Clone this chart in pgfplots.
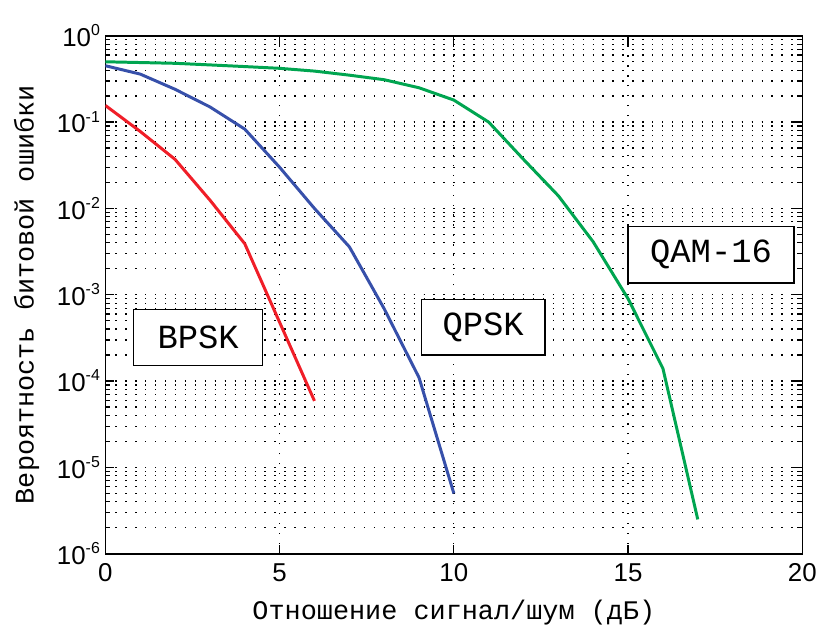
\documentclass[border=0pt]{standalone}
\usepackage{fontspec}
\setmainfont{Liberation Mono}
\newfontfamily\tickfont{Liberation Sans}
\usepackage{pgfplots}
\pgfplotsset{compat=1.18}
\definecolor{cred}{RGB}{240,30,40}
\definecolor{cblue}{RGB}{55,80,170}
\definecolor{cgreen}{RGB}{0,165,80}
\newcommand{\tp}[1]{10\raisebox{11pt}{\fontsize{16}{16}\selectfont #1}}
\begin{document}
\begin{tikzpicture}
\begin{axis}[
  scale only axis, width=701pt, height=521pt,
  xmin=0, xmax=20, ymin=1e-6, ymax=1,
  ymode=log,
  xtick={0,5,10,15,20},
  xticklabels={0,5,10,15,20},
  ytick={1e-6,1e-5,1e-4,1e-3,1e-2,1e-1,1},
  yticklabels={\tp{-6},\tp{-5},\tp{-4},\tp{-3},\tp{-2},\tp{-1},\tp{0}},
  grid=both,
  major grid style={black, line width=1.3pt, dash pattern=on 1.3pt off 8.7pt},
  minor grid style={black, line width=1.3pt, dash pattern=on 1.3pt off 8.7pt},
  tick align=inside,
  major tick length=9pt, minor tick length=5pt,
  axis line style={line width=1.6pt},
  every tick/.style={black, line width=1.3pt},
  ticklabel style={font=\tickfont\fontsize{26}{26}\selectfont},
  xticklabel style={yshift=-6pt},
  yticklabel style={xshift=-2pt},
  label style={font=\fontsize{27}{27}\selectfont},
  xlabel={Отношение сигнал/шум (дБ)},
  ylabel={Вероятность битовой ошибки},
  xlabel style={at={(axis description cs:0.5,-0.113)}, anchor=center},
  ylabel style={at={(axis description cs:-0.113,0.5)}, anchor=center},
]
\addplot[cred, line width=3pt] coordinates {(0,0.156)(1,0.078)(2,0.037)(3,0.0125)(4,0.0039)(5,4.8e-4)(6,5.9e-5)};
\addplot[cblue, line width=3pt] coordinates {(0,0.45)(1,0.36)(2,0.24)(3,0.15)(4,0.083)(5,0.03)(6,0.01)(7,3.6e-3)(8,6.9e-4)(9,1.1e-4)(10,5e-6)};
\addplot[cgreen, line width=3pt] coordinates {(0,0.5)(1,0.49)(2,0.48)(3,0.46)(4,0.44)(5,0.42)(6,0.39)(7,0.35)(8,0.31)(9,0.25)(10,0.18)(11,0.1)(12,0.037)(13,0.014)(14,4.1e-3)(15,9e-4)(16,1.4e-4)(17,2.5e-6)};
\node[draw, line width=1.5pt, fill=white, minimum width=130pt, minimum height=56pt, inner sep=0pt, font=\fontsize{34}{34}\selectfont] at (axis cs:2.66,3.2e-4) {BPSK};
\node[draw, line width=1.5pt, fill=white, minimum width=124pt, minimum height=56pt, inner sep=0pt, font=\fontsize{34}{34}\selectfont] at (axis cs:10.84,4.2e-4) {QPSK};
\node[draw, line width=1.5pt, fill=white, minimum width=167pt, minimum height=57pt, inner sep=0pt, font=\fontsize{34}{34}\selectfont] at (axis cs:17.38,2.9e-3) {QAM-16};
\coordinate (ll) at (rel axis cs:0,0);
\end{axis}
\path ([shift={(-106pt,-75pt)}]ll) rectangle ++(820pt,632pt);
\end{tikzpicture}
\end{document}
